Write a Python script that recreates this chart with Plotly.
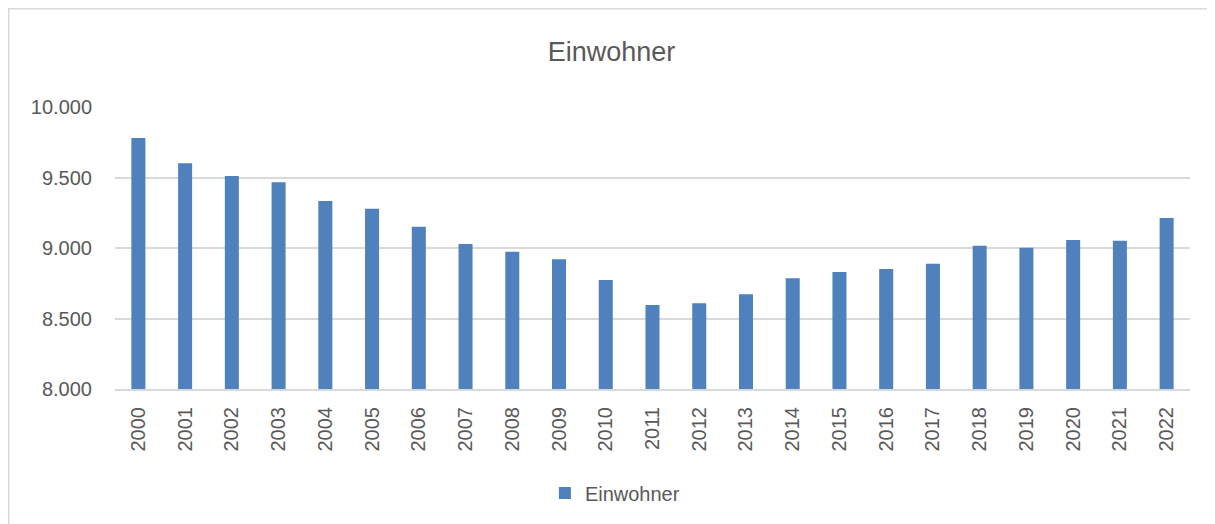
import plotly.graph_objects as go

years = [str(y) for y in range(2000, 2023)]
einwohner = [9780, 9601, 9511, 9466, 9333, 9279, 9151, 9028, 8974, 8920, 8773,
             8596, 8608, 8672, 8785, 8830, 8851, 8889, 9016, 9002, 9057, 9052, 9213]
y_ticks = [8000, 8500, 9000, 9500, 10000]
y_tick_labels = ["8.000", "8.500", "9.000", "9.500", "10.000"]

FONT = "Liberation Sans, Arial, sans-serif"
GREY = "#595959"

fig = go.Figure()
fig.add_trace(go.Bar(
    x=years, y=einwohner, name="Einwohner",
    marker=dict(color="#4f81bd", line=dict(width=0)),
    showlegend=True,
))

# page is offset by the 8px body margin
W, H = 1207, 516
L, R, T, B = 107, 25, 99, 135
pw, ph = W - L - R, H - T - B

fig.update_layout(
    width=W, height=H,
    margin=dict(l=L, r=R, t=T, b=B),
    paper_bgcolor="white", plot_bgcolor="white",
    bargap=0.7,
    title=dict(text="Einwohner", x=0.5, xanchor="center", xref="container",
               y=1 - 44 / H, yanchor="middle", yref="container",
               font=dict(family=FONT, size=27, color=GREY)),
    font=dict(family=FONT, color=GREY),
    xaxis=dict(type="category", tickangle=-90, showgrid=False,
               showline=True, linecolor="#d9d9d9", linewidth=2,
               ticks="", tickfont=dict(size=20, color=GREY), ticklabelstandoff=8),
    yaxis=dict(range=[8000, 10000], tickvals=y_ticks, ticktext=y_tick_labels,
               showgrid=True, gridcolor="#d9d9d9", gridwidth=1.5,
               zeroline=False, showline=False, ticks="",
               tickfont=dict(size=20, color=GREY), ticklabelstandoff=22),
    legend=dict(orientation="h", x=0.465, xanchor="center", xref="paper",
                y=-(485 - (H - B)) / ph, yanchor="middle",
                font=dict(size=20, color=GREY), itemwidth=30),
    shapes=[dict(type="rect", xref="paper", yref="paper",
                 x0=(0.75 - L) / pw, x1=1.3, y0=-0.8, y1=(H - B - 0.75) / ph,
                 line=dict(color="#d9d9d9", width=1.5), layer="below")],
)

fig.write_html("out.html")
